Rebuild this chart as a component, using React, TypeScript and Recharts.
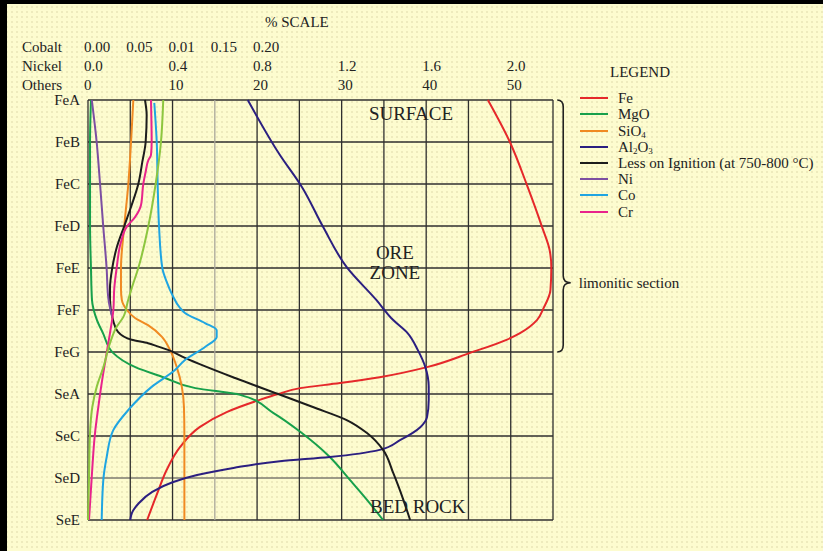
import {
  CartesianGrid,
  Legend,
  Line,
  LineChart,
  ReferenceArea,
  ReferenceDot,
  XAxis,
  YAxis,
} from "recharts";

// Laterite profile: depth runs down the page (0 = surface, 10 = bed rock),
// grades run across on three stacked % scales. Lines are [depth, value].

const FONT = '"Liberation Serif", "Times New Roman", serif';
const INK = "#222";

const horizons = ["FeA", "FeB", "FeC", "FeD", "FeE", "FeF", "FeG", "SeA", "SeC", "SeD", "SeE"];
const depthTicks = [0, 1, 2, 3, 4, 5, 6, 7, 8, 9, 10];

const othersTicks = [0, 10, 20, 30, 40, 50];
const othersLabels = ["0", "10", "20", "30", "40", "50"];
const nickelTicks = [0, 0.4, 0.8, 1.2, 1.6, 2.0];
const nickelLabels = ["0.0", "0.4", "0.8", "1.2", "1.6", "2.0"];
const cobaltTicks = [0, 0.05, 0.1, 0.15, 0.2, 0.25, 0.3, 0.35, 0.4, 0.45, 0.5, 0.55];
const cobaltLabels = ["0.00", "0.05", "0.01", "0.15", "0.20"];

const noteDepths = [7, 8, 9, 10];
const notes = [
  "serpentine earth",
  "medium hard serpentine",
  "medium to hard serpentine\npartially decomposed",
  "hard serpentine",
];
const limonitic = { from: 0, to: 6, tip: 4.35, text: "limonitic section" };

const seriesNames = ["Fe", "MgO", "SiO4", "Al2O3", "Less on Ignition (at 750-800 °C)", "Ni", "Co", "Cr"];

// others scale (%)
const fe: [number, number][] = [
  [0, 47.3], [1, 49.9], [2.07, 52.0], [3.02, 53.7], [3.57, 54.6], [3.98, 54.8],
  [4.52, 54.7], [4.95, 53.9], [5.24, 53.1], [5.55, 51.1], [5.71, 49.5], [6.02, 45.2],
  [6.36, 40.1], [6.6, 34.5], [6.74, 29.8], [6.86, 25.1], [7.0, 22.5], [7.14, 20.3],
  [7.43, 16.4], [7.79, 13.2], [8.26, 10.9], [8.81, 9.3], [9.36, 8.2], [10, 7.0],
];
const mgo: [number, number][] = [
  [0, 0.35], [1, 0.24], [2, 0.24], [3, 0.24], [4, 0.35], [4.76, 0.47], [5.24, 1.06],
  [5.55, 1.77], [6.02, 2.96], [6.36, 5.6], [6.6, 8.9], [6.86, 12.7], [7.02, 18.0],
  [7.45, 21.9], [7.9, 25.1], [8.5, 28.6], [9.05, 31.0], [9.52, 33.0], [10, 34.9],
];
const sio4: [number, number][] = [
  [0, 5.36], [1, 5.09], [2, 4.77], [3, 4.29], [4, 3.9], [4.5, 3.9], [4.76, 4.0],
  [5.0, 4.6], [5.19, 5.56], [5.36, 7.1], [5.64, 8.75], [5.95, 9.7], [6.36, 10.5],
  [6.83, 11.1], [7.31, 11.35], [8, 11.4], [9, 11.4], [10, 11.4],
];
const al2o3: [number, number][] = [
  [0, 18.9], [1.31, 22.7], [2.07, 25.3], [3.02, 27.8], [3.98, 30.6], [4.76, 34.1],
  [5.24, 36.1], [5.55, 37.8], [5.95, 39.0], [6.36, 39.9], [6.83, 40.3], [7.14, 40.3],
  [7.55, 40.1], [7.79, 39.3], [8.1, 36.9], [8.33, 34.5], [8.5, 28.6], [8.6, 22.7],
  [8.76, 17.2], [8.93, 12.9], [9.1, 10.0], [9.33, 7.6], [9.6, 6.0], [9.83, 5.2], [10, 5.0],
];
const loi: [number, number][] = [
  [0, 6.74], [0.36, 6.94], [1, 6.82], [1.48, 6.42], [2, 5.95], [2.5, 5.17], [3, 4.29],
  [3.52, 3.39], [4, 2.87], [4.48, 2.6], [4.76, 2.6], [5.24, 2.96], [5.52, 3.55],
  [5.71, 5.17], [5.79, 7.1], [5.86, 8.13], [5.95, 9.46], [6.14, 11.47], [6.62, 17.4],
  [7, 22.5], [7.31, 26.6], [7.62, 30.6], [7.93, 33.0], [8.33, 34.9], [8.88, 36.1],
  [9.52, 37.3], [10, 38.1],
];
const cr: [number, number][] = [
  [0, 7.45], [1, 7.53], [1.31, 7.45], [1.43, 7.14], [1.71, 6.82], [2, 6.54], [2.5, 6.27],
  [2.79, 5.56], [3.02, 4.57], [3.38, 3.9], [4, 3.39], [4.48, 3.11], [5, 3.0], [5.55, 2.6],
  [6.02, 2.21], [6.74, 1.62], [7.31, 1.22], [7.93, 0.83], [8.98, 0.44], [10, 0.12],
];
// light green trace, not named in the legend
const unnamed: [number, number][] = [
  [0, 8.9], [1, 8.63], [2, 8.0], [3, 7.14], [4, 5.95], [4.48, 5.17], [4.76, 4.75],
  [5.17, 4.17], [5.4, 3.39], [5.79, 2.6], [6.36, 1.82], [6.83, 1.03], [7.31, 0.51],
  [7.93, 0.24], [9, 0.12], [10, 0],
];
// nickel scale (%)
const ni: [number, number][] = [
  [0, 0.018], [1, 0.041], [2, 0.057], [3, 0.072], [4, 0.088], [4.71, 0.096],
  [4.95, 0.104], [5.17, 0.115],
];
// cobalt scale (%)
const co: [number, number][] = [
  [0.07, 0.0784], [1, 0.0813], [2, 0.0824], [3, 0.084], [4, 0.0879], [4.33, 0.0931],
  [4.64, 0.0997], [4.95, 0.1088], [5.07, 0.1147], [5.31, 0.1384], [5.48, 0.1522],
  [5.64, 0.1522], [5.88, 0.1384], [6.19, 0.1147], [6.43, 0.1029], [6.83, 0.0753],
  [7.38, 0.0477], [7.86, 0.0299], [8.5, 0.0221], [9.05, 0.0181], [10, 0.0162],
];

const plotNotes: { x: number; y: number; lines: string[] }[] = [
  { x: 38.2, y: 0.31, lines: ["SURFACE"] },
  { x: 36.3, y: 3.88, lines: ["ORE", "ZONE"] },
  { x: 39.0, y: 9.69, lines: ["BED ROCK"] },
];

const COLORS: Record<string, string> = {
  Fe: "#e5282a",
  MgO: "#17a04b",
  SiO4: "#f08a22",
  Al2O3: "#2b1f80",
  LoI: "#1c1c1c",
  Ni: "#7c4fa2",
  Co: "#1fa5e2",
  Cr: "#e8238c",
  unnamed: "#8dc63f",
};

// top axes stack by id: "a" sits on the plot, "c" is outermost
const OTHERS = "a-others";
const NICKEL = "b-nickel";
const COBALT = "c-cobalt";

const rows = (pts: [number, number][]) => pts.map(([d, v]) => ({ d, v }));

function ScaleTick({ x, y, index, labels }: any) {
  const text = labels[index];
  if (!text) return null;
  return (
    <text x={x - 4} y={y - 10} fill={INK} fontSize={15} fontFamily={FONT}>
      {text}
    </text>
  );
}

function AxisName({ viewBox, text, title }: any) {
  const { x, y, height } = viewBox;
  return (
    <g>
      <text x={x - 66} y={y + height - 10} fill={INK} fontSize={15} fontFamily={FONT}>
        {text}
      </text>
      {title && (
        <text x={x + 177} y={y - 16} fill={INK} fontSize={15} fontFamily={FONT}>
          {title}
        </text>
      )}
    </g>
  );
}

function NoteTick({ x, y, payload }: any) {
  const i = noteDepths.indexOf(payload.value);
  if (i < 0) return null;
  const lines = notes[i].split("\n");
  return (
    <text x={x + 19} y={y} fill={INK} fontSize={15} fontFamily={FONT}>
      {lines.map((line, k) => (
        <tspan key={k} x={x + 19} dy={k === 0 ? "0.35em" : 17}>
          {line}
        </tspan>
      ))}
    </text>
  );
}

function Brace({ x, y, width, height }: any) {
  const xm = x + 6;
  const x1 = x + width;
  const ty = y + (height * (limonitic.tip - limonitic.from)) / (limonitic.to - limonitic.from);
  const y1 = y + height;
  const d = `M${x},${y} Q${xm},${y} ${xm},${y + 7} L${xm},${ty - 7} Q${xm},${ty} ${x1},${ty} Q${xm},${ty} ${xm},${ty + 7} L${xm},${y1 - 7} Q${xm},${y1} ${x},${y1}`;
  return (
    <g>
      <path d={d} fill="none" stroke={INK} strokeWidth={1.6} />
      <text x={x1 + 8} y={ty + 5} fill={INK} fontSize={15} fontFamily={FONT}>
        {limonitic.text}
      </text>
    </g>
  );
}

function PlotNote({ viewBox, lines }: any) {
  const cx = viewBox.x + (viewBox.width || 0) / 2;
  const cy = viewBox.y + (viewBox.height || 0) / 2;
  const lh = 20;
  const top = cy - ((lines.length - 1) * lh) / 2;
  return (
    <text textAnchor="middle" fill={INK} fontSize={19} fontFamily={FONT}>
      {lines.map((line: string, k: number) => (
        <tspan key={k} x={cx} y={top + k * lh + 6.5}>
          {line}
        </tspan>
      ))}
    </text>
  );
}

function formula(name: string) {
  if (!/^[A-Za-z0-9]+$/.test(name)) return name;
  return name.split(/(\d)/).map((part, i) =>
    /\d/.test(part) ? (
      <span key={i} style={{ fontSize: 9, position: "relative", top: 2, lineHeight: 0 }}>
        {part}
      </span>
    ) : (
      part
    )
  );
}

function LegendBox({ payload }: any) {
  const items = (payload ?? [])
    .filter((p: any) => p.type !== "none" && seriesNames.includes(p.value))
    .sort((a: any, b: any) => seriesNames.indexOf(a.value) - seriesNames.indexOf(b.value));
  return (
    <div style={{ fontFamily: FONT, fontSize: 15, color: INK, lineHeight: "16.2px" }}>
      <div style={{ paddingLeft: 30, marginBottom: 10 }}>LEGEND</div>
      {items.map((item: any) => (
        <div key={item.value} style={{ display: "flex", alignItems: "center", height: 16.2, whiteSpace: "nowrap" }}>
          <span style={{ width: 28, height: 2, background: item.color, marginRight: 10, flex: "none" }} />
          <span>{formula(item.value)}</span>
        </div>
      ))}
    </div>
  );
}

const lineProps = {
  type: "monotone" as const,
  dataKey: "v",
  strokeWidth: 2,
  dot: false,
  activeDot: false,
  isAnimationActive: false,
  yAxisId: "depth",
};

const topAxis = {
  orientation: "top" as const,
  type: "number" as const,
  interval: 0,
  height: 19,
  axisLine: false,
  tickLine: false,
  tickSize: 0,
  tickMargin: 0,
};

export default function App() {
  return (
    <div
      style={{
        position: "absolute",
        left: 0,
        top: 0,
        width: 823,
        height: 551,
        backgroundColor: "#fdfccf",
        backgroundImage: "radial-gradient(circle at 2px 2px, #eeebbd 1px, transparent 1.4px)",
        backgroundSize: "5px 5px",
        boxShadow: "inset 7px 4px 0 #000",
      }}
    >
      <LineChart
        width={823}
        height={551}
        layout="vertical"
        margin={{ top: 43, right: 0, bottom: 31, left: 0 }}
      >
        <XAxis
          {...topAxis}
          xAxisId={OTHERS}
          domain={[0, 55]}
          ticks={othersTicks}
          tick={<ScaleTick labels={othersLabels} />}
          label={<AxisName text="Others" />}
        />
        <XAxis
          {...topAxis}
          xAxisId={NICKEL}
          domain={[0, 2.2]}
          ticks={nickelTicks}
          tick={<ScaleTick labels={nickelLabels} />}
          label={<AxisName text="Nickel" />}
        />
        <XAxis
          {...topAxis}
          xAxisId={COBALT}
          domain={[0, 0.55]}
          ticks={cobaltTicks}
          tick={<ScaleTick labels={cobaltLabels} />}
          label={<AxisName text="Cobalt" title="% SCALE" />}
        />
        <YAxis
          yAxisId="depth"
          type="number"
          dataKey="d"
          domain={[0, 10]}
          ticks={depthTicks}
          interval={0}
          width={88}
          axisLine={false}
          tickLine={false}
          tickSize={0}
          tickMargin={8}
          tickFormatter={(d: number) => horizons[d] ?? ""}
          tick={{ fill: INK, fontSize: 15, fontFamily: FONT }}
        />
        <YAxis
          yAxisId="notes"
          orientation="right"
          type="number"
          domain={[0, 10]}
          ticks={noteDepths}
          interval={0}
          width={270}
          axisLine={false}
          tickLine={false}
          tickSize={0}
          tickMargin={0}
          tick={<NoteTick />}
        />
        <CartesianGrid
          xAxisId={COBALT}
          yAxisId="depth"
          stroke="#2f2f2f"
          strokeWidth={1.3}
          vertical={(p: any) => (
            <line
              key={p.key}
              x1={p.x1}
              y1={p.y1}
              x2={p.x2}
              y2={p.y2}
              stroke={p.index === 3 ? "#a9a79a" : "#2f2f2f"}
              strokeWidth={1.3}
            />
          )}
          horizontal={(p: any) => (
            <line
              key={p.key}
              x1={p.x1}
              y1={p.y1}
              x2={p.x2}
              y2={p.y2}
              stroke={p.index === 9 ? "#7d7b70" : "#2f2f2f"}
              strokeWidth={1.3}
            />
          )}
        />
        <ReferenceArea
          xAxisId={OTHERS}
          yAxisId="depth"
          x1={55.5}
          x2={57.1}
          y1={limonitic.from}
          y2={limonitic.to}
          ifOverflow="visible"
          shape={<Brace />}
        />
        {plotNotes.map((n) => (
          <ReferenceDot
            key={n.lines.join(" ")}
            xAxisId={OTHERS}
            yAxisId="depth"
            x={n.x}
            y={n.y}
            r={0}
            fill="none"
            stroke="none"
            ifOverflow="visible"
            label={<PlotNote lines={n.lines} />}
          />
        ))}
        <Line {...lineProps} name={seriesNames[0]} xAxisId={OTHERS} data={rows(fe)} stroke={COLORS.Fe} />
        <Line {...lineProps} name={seriesNames[1]} xAxisId={OTHERS} data={rows(mgo)} stroke={COLORS.MgO} />
        <Line {...lineProps} name={seriesNames[2]} xAxisId={OTHERS} data={rows(sio4)} stroke={COLORS.SiO4} />
        <Line {...lineProps} name={seriesNames[3]} xAxisId={OTHERS} data={rows(al2o3)} stroke={COLORS.Al2O3} />
        <Line {...lineProps} name={seriesNames[4]} xAxisId={OTHERS} data={rows(loi)} stroke={COLORS.LoI} />
        <Line {...lineProps} name={seriesNames[5]} xAxisId={NICKEL} data={rows(ni)} stroke={COLORS.Ni} />
        <Line {...lineProps} name={seriesNames[6]} xAxisId={COBALT} data={rows(co)} stroke={COLORS.Co} />
        <Line {...lineProps} name={seriesNames[7]} xAxisId={OTHERS} data={rows(cr)} stroke={COLORS.Cr} />
        <Line {...lineProps} name="unnamed" legendType="none" xAxisId={OTHERS} data={rows(unnamed)} stroke={COLORS.unnamed} />
        <Legend
          layout="horizontal"
          verticalAlign="middle"
          align="center"
          content={<LegendBox />}
          wrapperStyle={{ left: 580, top: 64, width: "auto", height: "auto" }}
        />
      </LineChart>
    </div>
  );
}
